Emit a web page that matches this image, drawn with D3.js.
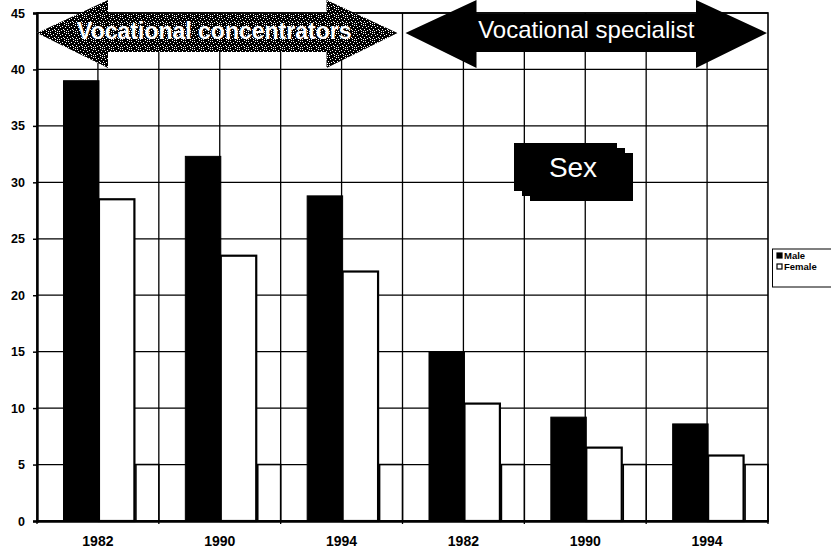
<!DOCTYPE html>
<html>
<head>
<meta charset="utf-8">
<script src="https://cdn.jsdelivr.net/npm/d3@7"></script>
<style>
  html, body { margin: 0; padding: 0; background: #fff; }
  svg { display: block; }
  text { font-family: "Liberation Sans", Arial, Helvetica, sans-serif; }
</style>
</head>
<body>
<svg id="chart" width="831" height="551"></svg>
<script>
// ---- data ----
const years = ["1982", "1990", "1994", "1982", "1990", "1994"];
const groupLabels = ["Vocational concentrators", "Vocational specialist"];
const male = [39.0, 32.3, 28.8, 15.0, 9.2, 8.6];
const female = [28.5, 23.5, 22.1, 10.4, 6.5, 5.8];
const spacer = [5, 5, 5, 5, 5, 5];
const yTicks = [0, 5, 10, 15, 20, 25, 30, 35, 40, 45];
const legendLabels = ["Male", "Female"];
const boxLabel = "Sex";

// ---- layout ----
const svg = d3.select("#chart");
const L = 37, R = 768, T = 13, B = 521;
const idx = d3.range(years.length);
const x = d3.scaleBand().domain(idx).range([L, R]).padding(0);
const y = d3.scaleLinear().domain([0, 45]).range([B, T]);
const bw = x.bandwidth();
const off = bw * 0.2175, w = bw * 0.291;

// dither pattern for left arrow
const defs = svg.append("defs");
const pat = defs.append("pattern").attr("id", "dither")
  .attr("patternUnits", "userSpaceOnUse").attr("width", 9).attr("height", 8);
pat.append("rect").attr("width", 9).attr("height", 8).attr("fill", "#000");
const dots = [[1,0],[5,1],[8,2],[2,3],[6,3],[0,5],[4,5],[7,6],[3,7],[1,6],[5,7],[3,1]];
dots.forEach(d => pat.append("rect").attr("x", d[0]).attr("y", d[1])
  .attr("width", 1).attr("height", 1).attr("fill", "#fff"));

// ---- gridlines ----
const grid = svg.append("g").attr("stroke", "#000").attr("stroke-width", 1.3);
grid.selectAll("line.h").data(yTicks).join("line")
  .attr("x1", L).attr("x2", R).attr("y1", d => y(d)).attr("y2", d => y(d));
const vPos = [];
idx.forEach(i => { vPos.push(x(i)); vPos.push(x(i) + bw / 2); });
grid.selectAll("line.v").data(vPos.slice(1)).join("line")
  .attr("x1", d => d).attr("x2", d => d).attr("y1", T).attr("y2", B);

// ---- bars ----
const bars = svg.append("g");
bars.selectAll("rect.spacer").data(spacer).join("rect")
  .attr("x", (d, i) => x(i) + off + 2 * w + 1.5)
  .attr("width", (d, i) => bw - off - 2 * w - 1.5)
  .attr("y", d => y(d)).attr("height", d => B - y(d))
  .attr("fill", "#fff").attr("stroke", "#000").attr("stroke-width", 1.6);
bars.selectAll("rect.male").data(male).join("rect")
  .attr("x", (d, i) => x(i) + off).attr("width", w)
  .attr("y", d => y(d)).attr("height", d => B - y(d))
  .attr("fill", "#000").attr("stroke", "#000").attr("stroke-width", 1);
bars.selectAll("rect.female").data(female).join("rect")
  .attr("x", (d, i) => x(i) + off + w).attr("width", w)
  .attr("y", d => y(d)).attr("height", d => B - y(d))
  .attr("fill", "#fff").attr("stroke", "#000").attr("stroke-width", 2.2);

// ---- frame & axes ----
svg.append("rect").attr("x", L).attr("y", T).attr("width", R - L).attr("height", B - T)
  .attr("fill", "none").attr("stroke", "#000").attr("stroke-width", 1.6);

const yAxis = svg.append("g").attr("transform", `translate(${L},0)`)
  .call(d3.axisLeft(y).tickValues(yTicks).tickSize(4).tickPadding(8));
yAxis.select(".domain").attr("stroke-width", 2.4);
yAxis.selectAll(".tick line").attr("stroke-width", 1.5);
yAxis.selectAll("text").attr("font-size", 12.5).attr("font-weight", "bold")
  .attr("fill", "#000").attr("font-family", "Liberation Sans, Arial, sans-serif");

const xAxis = svg.append("g").attr("transform", `translate(0,${B})`)
  .call(d3.axisBottom(x).tickFormat(i => years[i]).tickSize(0).tickPadding(15));
xAxis.select(".domain").attr("stroke-width", 2.4);
xAxis.selectAll("text").attr("font-size", 14).attr("font-weight", "bold")
  .attr("fill", "#000").attr("font-family", "Liberation Sans, Arial, sans-serif");
svg.append("g").selectAll("line").data(idx.concat([idx.length])).join("line")
  .attr("x1", i => L + i * bw).attr("x2", i => L + i * bw)
  .attr("y1", B).attr("y2", B + 3).attr("stroke", "#000").attr("stroke-width", 1.3);

// ---- double arrows ----
function dblArrow(x0, x1, fill) {
  const cy = 33, hl = 71, ht = 0, hb = 68, st = 14, sb = 52;
  const p = [[x0, cy], [x0 + hl, ht], [x0 + hl, st], [x1 - hl, st], [x1 - hl, ht], [x1, cy],
             [x1 - hl, hb], [x1 - hl, sb], [x0 + hl, sb], [x0 + hl, hb]];
  svg.append("path").attr("d", "M" + p.map(q => q.join(",")).join("L") + "Z").attr("fill", fill);
}
const a1x0 = x(0), a1x1 = x(3) - 5, a2x0 = x(3) + 3, a2x1 = x(5) + bw - 1;
dblArrow(a1x0, a1x1, "url(#dither)");
dblArrow(a2x0, a2x1, "#000");
svg.append("text").attr("x", (a1x0 + a1x1) / 2 - 3).attr("y", 39)
  .attr("text-anchor", "middle").attr("fill", "#fff").attr("font-size", 23)
  .attr("font-weight", "bold").text(groupLabels[0]);
svg.append("text").attr("x", (a2x0 + a2x1) / 2).attr("y", 38)
  .attr("text-anchor", "middle").attr("fill", "#fff").attr("font-size", 24)
  .text(groupLabels[1]);

// ---- "Sex" stacked box ----
const sb = svg.append("g");
[[530, 153], [522, 148], [514, 143]].forEach(p =>
  sb.append("rect").attr("x", p[0]).attr("y", p[1]).attr("width", 103).attr("height", 48)
    .attr("fill", "#000"));
sb.append("text").attr("x", 573).attr("y", 177).attr("text-anchor", "middle")
  .attr("fill", "#fff").attr("font-size", 28).text(boxLabel);

// ---- legend ----
const lg = svg.append("g");
lg.append("rect").attr("x", 772.5).attr("y", 249).attr("width", 70).attr("height", 38)
  .attr("fill", "#fff").attr("stroke", "#000").attr("stroke-width", 1);
legendLabels.forEach((t, i) => {
  const yy = 253 + i * 11;
  lg.append("rect").attr("x", 777).attr("y", yy).attr("width", 5).attr("height", 5)
    .attr("fill", i === 0 ? "#000" : "#fff").attr("stroke", "#000").attr("stroke-width", 1.2);
  lg.append("text").attr("x", 784).attr("y", yy + 5.5).attr("font-size", 9.5)
    .attr("font-weight", "bold").attr("fill", "#000").text(t);
});
</script>
</body>
</html>
